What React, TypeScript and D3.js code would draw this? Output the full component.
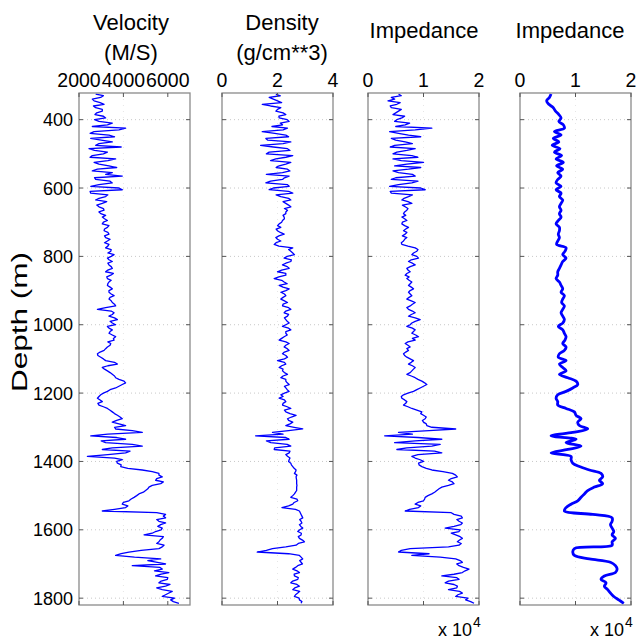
import React from "react";
import * as d3 from "d3";

// ---- data ----
const depthDomain = [322, 1820];
const depthTicks = [400, 600, 800, 1000, 1200, 1400, 1600, 1800];
const depths = d3.range(325, 1816, 10); // 150 samples, 325..1815 m
const depthsMid = d3.range(330, 1811, 10); // 149 samples, 330..1810 m

const velocity = [
  2750, 2975, 2680, 3130, 2750, 3050, 2720, 3200, 2900, 3280,
  4100, 2680, 3350, 2530, 3500, 2750, 2450, 3280, 2600, 3650,
  2680, 3350, 2830, 3500, 3950, 2750, 3500, 2530, 3950, 2530,
  3200, 2750, 3050, 2900, 3130, 2980, 3050, 3280, 3050, 3280,
  3130, 3350, 3200, 3280, 3350, 3200, 3430, 3580, 3280, 3500,
  3350, 3500, 3200, 3430, 3280, 3350, 3280, 3500, 3350, 3580,
  3350, 3500, 3650, 2830, 3580, 3350, 3730, 3500, 3280, 3500,
  3350, 3650, 3580, 3430, 3280, 3130, 2830, 2980, 3200, 3730,
  3050, 3280, 3500, 3650, 4030, 3950, 3650, 3280, 2980, 2830,
  3050, 2900, 3280, 3500, 3730, 3950, 3500, 4100, 3650, 4850,
  2530, 4100, 3200, 4850, 3050, 4100, 2380, 3950, 3730, 3880,
  4850, 5600, 5750, 5450, 5680, 5150, 5000, 4700, 4480, 4250,
  3950, 4100, 3050, 5900, 5900, 5600, 5680, 5750, 5450, 4930,
  5750, 5600, 5830, 5600, 4250, 3650, 5680, 5530, 4400, 5750,
  6050, 5450, 5980, 5600, 5900, 5750, 6050, 5750, 6130, 6500,
];
const velocityMid = [
  3100, 2600, 2950, 2650, 3050, 2800, 3100, 2700, 3500, 2600,
  3800, 2500, 3600, 3000, 2900, 3900, 2700, 3100, 2500, 3300,
  2900, 3700, 2600, 3200, 2700, 3400, 2900, 3800, 2500, 3300,
  2900, 3250, 2800, 3100, 2900, 3200, 3150, 3100, 3350, 3150,
  3300, 3150, 3400, 3150, 3300, 3450, 3300, 3450, 3350, 3300,
  3450, 3300, 3550, 3250, 3450, 3300, 3400, 3350, 3450, 3400,
  3450, 3600, 3200, 3450, 3500, 3600, 3400, 3650, 3350, 3400,
  3500, 3550, 3300, 3400, 3200, 2950, 2850, 3100, 3600, 3300,
  3150, 3400, 3600, 3800, 4100, 3800, 3400, 3100, 2900, 2950,
  2850, 3100, 3400, 3600, 3850, 3700, 3800, 3600, 4400, 3300,
  3700, 3000, 4400, 3500, 4300, 3300, 3600, 3700, 3900, 4200,
  5300, 5600, 5500, 5800, 5300, 5100, 4900, 4600, 4350, 4000,
  4200, 3600, 5500, 5800, 5500, 5900, 5550, 5700, 5300, 5800,
  5650, 5500, 5750, 4800, 3900, 4500, 5100, 5900, 5650, 5400,
  5700, 6000, 5700, 6100, 5500, 6200, 5900, 6300, 6250,
];

const density = [
  1.94, 1.7, 2.0, 1.45, 2.12, 1.94, 2.3, 2.06, 2.42, 2.18,
  2.36, 1.45, 2.3, 1.58, 2.48, 1.39, 2.36, 1.7, 2.55, 1.94,
  2.48, 2.06, 2.36, 2.18, 2.42, 2.18, 1.58, 2.42, 1.7, 2.55,
  2.12, 2.48, 2.3, 2.48, 2.36, 2.3, 2.24, 2.18, 2.06, 2.12,
  2.0, 2.24, 1.94, 2.12, 1.88, 2.55, 2.48, 2.61, 2.24, 2.48,
  2.18, 2.42, 2.0, 2.3, 1.88, 2.24, 2.06, 2.42, 2.12, 2.3,
  2.12, 2.36, 2.18, 2.48, 2.24, 2.36, 2.3, 2.42, 2.18, 2.48,
  2.3, 2.24, 2.06, 2.42, 2.24, 2.42, 2.18, 2.36, 2.0, 2.3,
  2.06, 2.18, 2.36, 2.12, 2.3, 2.42, 2.3, 2.42, 2.12, 2.06,
  2.3, 2.18, 2.48, 2.3, 2.67, 2.36, 2.55, 2.3, 2.91, 1.82,
  1.21, 2.42, 1.76, 2.48, 1.88, 2.42, 2.36, 2.42, 2.48, 2.55,
  2.67, 2.61, 2.67, 2.69, 2.69, 2.69, 2.69, 2.61, 2.48, 2.73,
  2.55, 2.16, 2.79, 2.85, 2.91, 2.85, 2.79, 2.91, 2.73, 2.85,
  2.79, 2.97, 2.67, 1.82, 1.27, 2.79, 2.91, 2.85, 2.73, 2.55,
  2.79, 2.61, 2.73, 2.48, 2.79, 2.55, 2.73, 2.61, 2.79, 2.85,
];
const densityMid = [
  2.1, 1.85, 2.15, 1.75, 2.0, 2.2, 2.05, 2.35, 2.1, 1.8,
  2.2, 1.9, 2.4, 1.65, 2.2, 1.85, 2.45, 1.6, 2.3, 1.75,
  2.3, 1.95, 2.45, 1.6, 2.25, 1.75, 2.35, 1.85, 2.4, 1.95,
  2.4, 2.2, 2.4, 2.25, 2.3, 2.2, 2.25, 2.15, 2.0, 1.95,
  2.1, 2.05, 2.0, 1.95, 2.05, 2.4, 2.55, 2.35, 2.5, 2.3,
  2.35, 2.15, 2.3, 2.05, 2.15, 2.35, 2.2, 2.3, 2.25, 2.2,
  2.25, 2.2, 2.4, 2.3, 2.4, 2.25, 2.35, 2.3, 2.4, 2.3,
  2.35, 2.15, 2.3, 2.3, 2.35, 2.25, 2.3, 2.25, 2.25, 2.15,
  2.2, 2.25, 2.2, 2.3, 2.35, 2.25, 2.35, 2.25, 2.2, 2.25,
  2.2, 2.35, 2.25, 2.45, 2.5, 2.4, 2.45, 2.6, 2.4, 2.2,
  2.3, 1.6, 2.35, 1.9, 2.45, 2.3, 2.45, 2.4, 2.5, 2.6,
  2.65, 2.7, 2.68, 2.69, 2.7, 2.69, 2.65, 2.55, 2.7, 2.6,
  2.4, 2.65, 2.82, 2.88, 2.8, 2.88, 2.84, 2.8, 2.86, 2.75,
  2.9, 2.75, 2.3, 1.6, 2.4, 2.85, 2.8, 2.9, 2.65, 2.7,
  2.6, 2.75, 2.55, 2.7, 2.62, 2.8, 2.65, 2.78, 2.88,
];

const impedance = [
  0.55, 0.42, 0.36, 0.52, 0.42, 0.55, 0.45, 0.61, 0.48, 0.67,
  1.15, 0.39, 0.73, 0.42, 0.67, 0.48, 0.85, 0.52, 0.79, 0.45,
  1.0, 0.48, 0.73, 0.55, 0.85, 0.42, 0.79, 0.39, 1.03, 0.42,
  0.73, 0.61, 0.79, 0.67, 0.7, 0.64, 0.61, 0.7, 0.61, 0.73,
  0.64, 0.67, 0.7, 0.64, 0.61, 0.85, 0.88, 0.79, 0.91, 0.73,
  0.85, 0.7, 0.76, 0.67, 0.7, 0.79, 0.73, 0.82, 0.73, 0.79,
  0.7, 0.85, 0.76, 0.73, 0.85, 0.73, 0.94, 0.79, 0.7, 0.85,
  0.79, 0.91, 0.85, 0.67, 0.76, 0.73, 0.64, 0.7, 0.82, 0.73,
  0.85, 0.79, 0.7, 0.85, 0.97, 1.06, 0.94, 0.82, 0.64, 0.61,
  0.7, 0.64, 0.79, 0.97, 1.0, 1.03, 1.0, 1.06, 1.58, 0.55,
  0.3, 1.33, 0.48, 1.15, 0.52, 1.33, 0.79, 0.94, 0.91, 0.97,
  1.15, 1.52, 1.61, 1.45, 1.55, 1.33, 1.24, 1.15, 1.03, 1.0,
  0.85, 0.91, 0.67, 1.55, 1.7, 1.64, 1.67, 1.39, 1.64, 1.58,
  1.7, 1.61, 1.64, 0.76, 0.55, 0.79, 1.58, 1.7, 1.64, 1.82,
  1.7, 1.33, 1.64, 1.39, 1.61, 1.45, 1.7, 1.58, 1.76, 1.91,
];
const impedanceMid = [
  0.6, 0.48, 0.58, 0.4, 0.6, 0.5, 0.66, 0.52, 0.75, 0.5,
  0.85, 0.55, 0.95, 0.5, 0.8, 0.4, 0.7, 0.45, 0.9, 0.6,
  0.7, 0.95, 0.45, 0.8, 0.5, 0.9, 0.55, 0.95, 0.4, 0.8,
  0.65, 0.72, 0.62, 0.72, 0.66, 0.68, 0.66, 0.62, 0.66, 0.68,
  0.7, 0.62, 0.66, 0.6, 0.72, 0.9, 0.82, 0.88, 0.78, 0.8,
  0.76, 0.72, 0.7, 0.74, 0.74, 0.76, 0.78, 0.76, 0.76, 0.74,
  0.78, 0.8, 0.7, 0.8, 0.78, 0.85, 0.85, 0.76, 0.8, 0.82,
  0.86, 0.8, 0.72, 0.72, 0.7, 0.68, 0.66, 0.76, 0.78, 0.8,
  0.82, 0.76, 0.78, 0.9, 1.02, 1.0, 0.88, 0.72, 0.6, 0.66,
  0.68, 0.72, 0.88, 0.95, 1.05, 0.98, 1.05, 1.15, 1.1, 0.8,
  0.9, 0.85, 1.3, 0.7, 1.2, 0.9, 0.85, 1.0, 0.92, 1.05,
  1.35, 1.58, 1.5, 1.52, 1.45, 1.28, 1.2, 1.08, 1.02, 0.9,
  0.95, 0.75, 1.5, 1.68, 1.6, 1.7, 1.55, 1.66, 1.5, 1.66,
  1.65, 1.68, 1.45, 0.6, 1.1, 1.3, 1.66, 1.6, 1.72, 1.75,
  1.55, 1.6, 1.45, 1.55, 1.6, 1.65, 1.62, 1.8, 1.85,
];

const impedanceSmooth = [
  0.56, 0.53, 0.48, 0.52, 0.6, 0.64, 0.7, 0.74, 0.7, 0.78,
  0.8, 0.62, 0.74, 0.6, 0.7, 0.58, 0.72, 0.62, 0.75, 0.65,
  0.78, 0.66, 0.77, 0.68, 0.74, 0.68, 0.65, 0.74, 0.65, 0.74,
  0.71, 0.77, 0.74, 0.71, 0.74, 0.71, 0.74, 0.69, 0.65, 0.71,
  0.71, 0.69, 0.71, 0.68, 0.66, 0.83, 0.81, 0.77, 0.83, 0.77,
  0.74, 0.71, 0.68, 0.68, 0.65, 0.71, 0.74, 0.77, 0.74, 0.8,
  0.77, 0.75, 0.8, 0.77, 0.74, 0.77, 0.8, 0.77, 0.69, 0.77,
  0.8, 0.83, 0.81, 0.77, 0.83, 0.8, 0.71, 0.69, 0.83, 0.71,
  0.77, 0.83, 0.71, 0.86, 1.01, 1.04, 0.95, 0.83, 0.68, 0.65,
  0.68, 0.68, 0.83, 0.98, 1.01, 1.1, 1.04, 1.07, 1.22, 0.95,
  0.56, 1.01, 0.83, 1.1, 0.86, 0.56, 0.92, 0.92, 0.95, 1.07,
  1.25, 1.46, 1.49, 1.43, 1.49, 1.34, 1.22, 1.16, 1.1, 1.04,
  0.92, 0.83, 0.8, 1.31, 1.66, 1.66, 1.63, 1.66, 1.69, 1.66,
  1.72, 1.66, 1.66, 0.98, 0.95, 0.98, 1.25, 1.63, 1.72, 1.75,
  1.72, 1.52, 1.46, 1.55, 1.52, 1.58, 1.63, 1.69, 1.78, 1.87,
];

const velocityTicks = [2000, 4000, 6000];
const densityTicks = [0, 2, 4];
const impedanceTicks = [0, 1, 2];

// ---- layout ----
const W = 638;
const H = 641;
const TOP = 93;
const BOTTOM = 605;
const FONT = "'Liberation Sans', Arial, Helvetica, sans-serif";

type Pt = { d: number; v: number };

function merge(a: number[], b: number[] | null): Pt[] {
  const pts: Pt[] = a.map((v, i) => ({ d: depths[i], v }));
  if (b) b.forEach((v, i) => pts.push({ d: depthsMid[i], v }));
  return pts.sort((p, q) => p.d - q.d);
}

type Panel = {
  x0: number;
  x1: number;
  domain: [number, number];
  ticks: number[];
  pts: Pt[];
  title: string[];
  titleX: number;
  titleY: number[];
  sw: number;
  exponent: boolean;
  curve: any;
};

const panels: Panel[] = [
  { x0: 79, x1: 190, domain: [2000, 7000], ticks: velocityTicks, pts: merge(velocity, velocityMid), title: ["Velocity", "(M/S)"], titleX: 131, titleY: [30, 60], sw: 1.3, exponent: false, curve: d3.curveLinear },
  { x0: 222, x1: 333, domain: [0, 4], ticks: densityTicks, pts: merge(density, densityMid), title: ["Density", "(g/cm**3)"], titleX: 282, titleY: [30, 60], sw: 1.3, exponent: false, curve: d3.curveLinear },
  { x0: 368, x1: 479, domain: [0, 2], ticks: impedanceTicks, pts: merge(impedance, impedanceMid), title: ["Impedance"], titleX: 424, titleY: [38], sw: 1.3, exponent: true, curve: d3.curveLinear },
  { x0: 520, x1: 631, domain: [0, 2], ticks: impedanceTicks, pts: merge(impedanceSmooth, null), title: ["Impedance"], titleX: 570, titleY: [38], sw: 2.8, exponent: true, curve: d3.curveCatmullRom.alpha(0.5) },
];

const y = d3.scaleLinear().domain(depthDomain).range([TOP, BOTTOM]);

function PanelView({ p, first }: { p: Panel; first: boolean }) {
  const x = d3.scaleLinear().domain(p.domain).range([p.x0, p.x1]);
  const line = d3
    .line<Pt>()
    .x((q) => x(q.v))
    .y((q) => y(q.d))
    .curve(p.curve);
  const tickLen = 4;
  return (
    <g>
      {depthTicks.map((t) => (
        <line key={"gy" + t} x1={p.x0} x2={p.x1} y1={y(t)} y2={y(t)} stroke="#c8c8c8" strokeWidth={1} strokeDasharray="1,3" />
      ))}
      {p.ticks.slice(1, -1).map((t) => (
        <line key={"gx" + t} x1={x(t)} x2={x(t)} y1={TOP} y2={BOTTOM} stroke="#e6e6e6" strokeWidth={1} strokeDasharray="1,5" />
      ))}
      <path d={line(p.pts) || ""} fill="none" stroke="#0000ff" strokeWidth={p.sw} strokeLinejoin="round" />
      <rect x={p.x0} y={TOP} width={p.x1 - p.x0} height={BOTTOM - TOP} fill="none" stroke="#8a8a8a" strokeWidth={1.3} />
      {depthTicks.map((t) => (
        <g key={"ty" + t}>
          <line x1={p.x0} x2={p.x0 + tickLen} y1={y(t)} y2={y(t)} stroke="#555" strokeWidth={1} />
          <line x1={p.x1} x2={p.x1 - tickLen} y1={y(t)} y2={y(t)} stroke="#555" strokeWidth={1} />
        </g>
      ))}
      {p.ticks.map((t) => (
        <g key={"tx" + t}>
          <line x1={x(t)} x2={x(t)} y1={TOP} y2={TOP + tickLen} stroke="#555" strokeWidth={1} />
          <line x1={x(t)} x2={x(t)} y1={BOTTOM} y2={BOTTOM - tickLen} stroke="#555" strokeWidth={1} />
        </g>
      ))}
      {p.ticks.map((t) => (
        <text key={"lx" + t} x={x(t)} y={87} textAnchor="middle" fontSize={19.5} fontFamily={FONT} fill="#000">
          {String(t)}
        </text>
      ))}
      {p.title.map((s, i) => (
        <text key={"t" + i} x={p.titleX} y={p.titleY[i]} textAnchor="middle" fontSize={22} fontFamily={FONT} fill="#000">
          {s}
        </text>
      ))}
      {p.exponent && (
        <text x={p.x1 - 7} y={636} textAnchor="end" fontSize={18} fontFamily={FONT} fill="#000">
          x 10
        </text>
      )}
      {p.exponent && (
        <text x={p.x1 - 6} y={627} textAnchor="start" fontSize={14} fontFamily={FONT} fill="#000">
          4
        </text>
      )}
      {first &&
        depthTicks.map((t) => (
          <text key={"ly" + t} x={73} y={y(t) + 6.5} textAnchor="end" fontSize={18} fontFamily={FONT} fill="#000">
            {String(t)}
          </text>
        ))}
    </g>
  );
}

export default function App() {
  return (
    <svg width={W} height={H} style={{ position: "absolute", left: 0, top: 0, background: "#fff" }}>
      <rect x={0} y={0} width={W} height={H} fill="#fff" />
      {panels.map((p, i) => (
        <PanelView key={i} p={p} first={i === 0} />
      ))}
      <text
        transform="translate(27,322) rotate(-90)"
        textAnchor="middle"
        fontSize={22}
        fontFamily={FONT}
        textLength={140}
        lengthAdjust="spacingAndGlyphs"
        fill="#000"
      >
        Depth (m)
      </text>
    </svg>
  );
}
